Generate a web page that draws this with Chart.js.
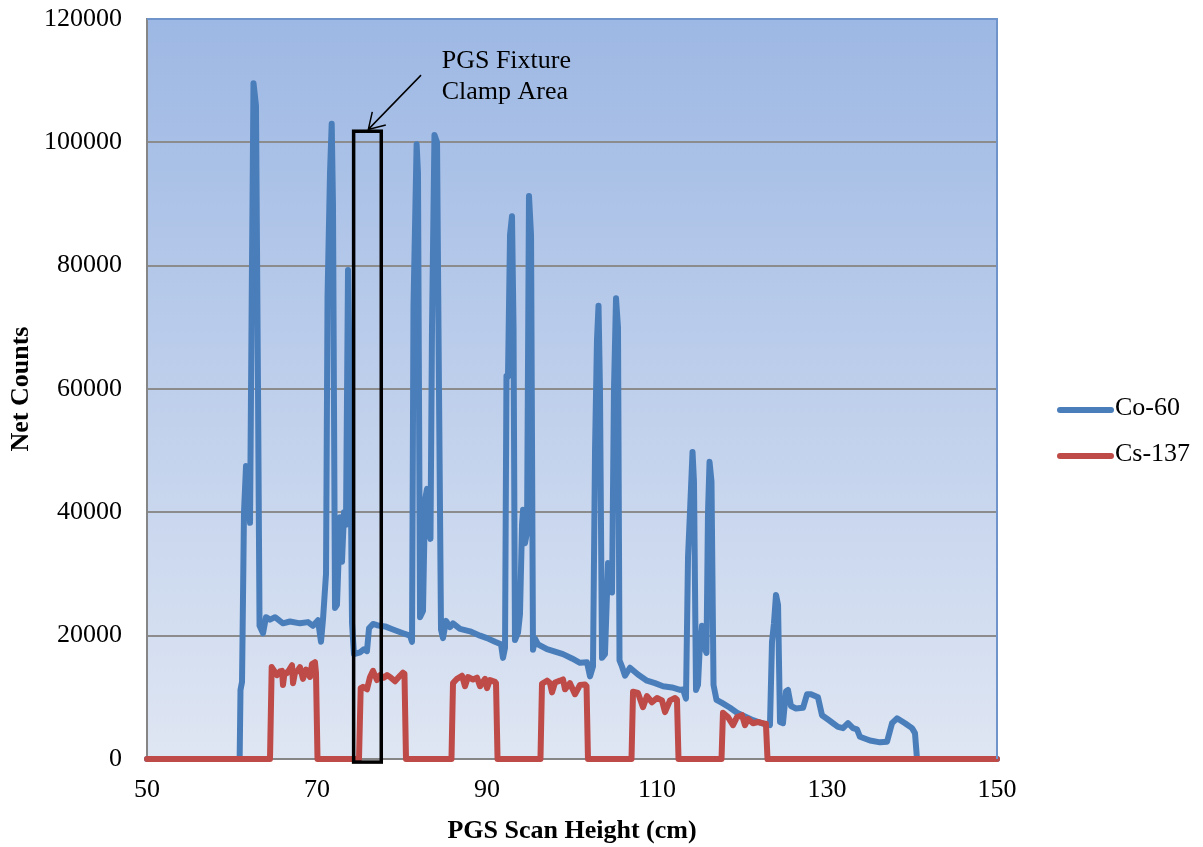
<!DOCTYPE html>
<html>
<head>
<meta charset="utf-8">
<script src="https://cdn.jsdelivr.net/npm/chart.js@4.4.1/dist/chart.umd.min.js"></script>
<style>
  html, body { margin: 0; padding: 0; background: #ffffff; }
  #wrap { width: 1203px; height: 847px; }
</style>
</head>
<body>
<div id="wrap"><canvas id="chart" width="1203" height="847"></canvas></div>
<script>
// PGS scan data
const co60X = [50, 60.9, 61.0, 61.18, 61.41, 61.65, 61.88, 62.12, 62.35, 62.53, 62.82, 63.06, 63.24, 63.65, 64.0,
  64.47, 65.06, 66.0, 66.82, 68.0, 68.94, 69.53, 70.12, 70.47, 70.71, 71.06, 71.24, 71.53, 71.73, 71.88,
  72.12, 72.35, 72.71, 72.94, 73.18, 73.41, 73.65, 73.88, 74.12, 74.35, 75.06, 75.53, 75.88, 76.12, 76.59,
  77.06, 78.0, 78.94, 80.12, 80.94, 81.18, 81.35, 81.72, 81.88, 82.12, 82.47, 82.71, 82.94, 83.18, 83.35,
  83.53, 83.82, 84.12, 84.35, 84.59, 84.82, 85.18, 85.65, 86.0, 86.82, 88.0, 89.18, 90.0, 90.94, 91.65,
  91.88, 92.12, 92.29, 92.47, 92.71, 92.94, 93.12, 93.29, 93.65, 93.88, 94.12, 94.24, 94.47, 94.71, 94.94,
  95.18, 95.41, 95.65, 96.0, 97.06, 98.0, 98.94, 100.0, 100.94, 101.76, 102.12, 102.47, 102.71, 102.94, 103.12,
  103.29, 103.53, 103.88, 104.24, 104.47, 104.71, 104.94, 105.18, 105.41, 105.59, 105.88, 106.24, 106.82, 107.76,
  108.82, 109.76, 110.71, 111.76, 112.71, 113.06, 113.41, 113.65, 113.88, 114.18, 114.35, 114.59, 114.82, 115.0,
  115.29, 115.59, 115.82, 116.0, 116.18, 116.41, 116.65, 117.0, 117.65, 118.59, 119.41, 120.35, 121.29, 122.35,
  123.29, 123.53, 123.76, 124.0, 124.24, 124.47, 124.82, 125.18, 125.41, 125.76, 126.35, 127.18, 127.65, 128.12,
  128.94, 129.41, 130.12, 130.71, 131.29, 131.88, 132.47, 133.06, 133.53, 133.88, 135.06, 136.24, 137.06, 137.65,
  138.24, 139.18, 140.0, 140.35, 140.59, 150];
const co60Y = [0, 0, 11200, 12500, 40000, 47500, 46000, 38300, 80000, 109600, 106000, 60000, 21600, 20400, 23000,
  22600, 23000, 22000, 22300, 22000, 22200, 21600, 22500, 19000, 22700, 30000, 75000, 95000, 103000, 90000,
  24500, 25000, 39200, 32000, 40000, 38000, 79300, 60000, 22000, 17000, 17300, 17800, 17500, 21200, 21900,
  21700, 21500, 21000, 20400, 20000, 19000, 73300, 99700, 95000, 23000, 24000, 42000, 43800, 37000, 35700,
  70000, 101200, 100000, 60000, 21000, 19600, 22400, 21400, 22000, 21100, 20700, 20000, 19600, 19000, 18600,
  16400, 18000, 62100, 62000, 85000, 88000, 70000, 19300, 20500, 23500, 38000, 40400, 35000, 36800, 91300,
  85000, 17700, 19500, 18600, 17800, 17400, 17000, 16300, 15600, 15700, 13400, 15000, 50100, 68000, 73500,
  60000, 16400, 17000, 31800, 30000, 27000, 60000, 74700, 70000, 16000, 15000, 13500, 14800, 13700,
  12700, 12300, 11800, 11600, 11200, 11300, 9800, 32800, 40000, 49800, 45000, 11200, 12000, 17200,
  21600, 18000, 17200, 40000, 48200, 45000, 12000, 9600, 9100, 8300, 7500, 6900, 6300, 5800,
  5500, 19000, 22000, 26600, 25000, 6000, 5800, 11000, 11200, 8600, 8200, 8300, 10500, 10500,
  10000, 7100, 6400, 5800, 5200, 5000, 5800, 5000, 4800, 3600, 3000, 2700, 2800, 5800,
  6600, 5800, 5000, 4200, 0, 0];

const cs137X = [50, 64.47, 64.67, 65.29, 65.65, 65.88, 66.0, 66.18, 66.47, 67.06, 67.18, 67.41, 67.65, 68.0, 68.35,
  68.71, 69.18, 69.41, 69.76, 69.88, 70.06,
  74.94, 75.14, 75.41, 75.88, 76.24, 76.59, 77.06, 77.41, 77.88, 78.24, 78.59, 79.18, 79.76, 80.12, 80.29, 80.47,
  85.82, 86.0, 86.47, 87.06, 87.41, 87.76, 88.35, 88.82, 89.18, 89.76, 90.0, 90.35, 90.94, 91.06, 91.24,
  96.29, 96.47, 97.06, 97.41, 97.65, 98.0, 98.59, 98.94, 99.18, 99.76, 100.35, 100.94, 101.53, 101.71, 101.88,
  107.0, 107.18, 107.76, 108.35, 108.82, 109.41, 110.0, 110.59, 110.94, 111.53, 112.12, 112.35, 112.53,
  117.59, 117.76, 118.35, 118.94, 119.41, 120.0, 120.35, 120.71, 121.29, 121.88, 122.71, 122.82, 123.0, 150];
const cs137Y = [0, 0, 14900, 13600, 14200, 14300, 12000, 14000, 13900, 15200, 12300, 14000, 14200, 14900, 13000,
  14500, 13300, 15400, 15700, 14000, 0,
  0, 11500, 11700, 11300, 13300, 14300, 12800, 13600, 13200, 13600, 13300, 12600, 13500, 14000, 13800, 0,
  0, 12300, 13000, 13500, 11800, 13300, 12900, 13200, 11800, 13000, 11500, 12800, 12500, 12300, 0,
  0, 12200, 12700, 12300, 10800, 12400, 12700, 12900, 11300, 12300, 10500, 12000, 12100, 11800, 0,
  0, 10900, 10700, 8400, 10200, 9200, 9900, 9500, 7600, 9500, 9900, 9600, 0,
  0, 7500, 6800, 5500, 6800, 7100, 5500, 6500, 5800, 6000, 5700, 5600, 0, 0];

const xTicks = [50, 70, 90, 110, 130, 150];
const yTicks = [0, 20000, 40000, 60000, 80000, 100000, 120000];

const seriesNames = ['Co-60', 'Cs-137'];
const seriesColors = ['#4a7ebb', '#be4b48'];

// callout for the fixture clamp, in data units
const clampBox = { xMin: 74.31, xMax: 77.56, yMin: -500, yMax: 101800 };
const clampArrow = { fromX: 82.24, fromY: 110900, toX: 76.04, toY: 102100 };
const clampText = [
  { x: 84.67, y: 113240, text: 'PGS Fixture' },
  { x: 84.67, y: 108210, text: 'Clamp Area' }
];

const FONT = "'Liberation Serif', 'Times New Roman', serif";

function toPoints(xs, ys) {
  return xs.map((x, i) => ({ x: x, y: ys[i] }));
}

const plotBackground = {
  id: 'plotBackground',
  beforeDraw(chart) {
    const { ctx, chartArea: a } = chart;
    const g = ctx.createLinearGradient(0, a.top, 0, a.bottom);
    g.addColorStop(0, '#9db8e4');
    g.addColorStop(1, '#dfe6f3');
    ctx.save();
    ctx.fillStyle = g;
    ctx.fillRect(a.left, a.top, a.right - a.left, a.bottom - a.top);
    ctx.restore();
  },
  afterDraw(chart) {
    const { ctx, chartArea: a } = chart;
    ctx.save();
    // top and right frame lines
    ctx.strokeStyle = '#6f93cb';
    ctx.lineWidth = 2;
    ctx.beginPath();
    ctx.moveTo(a.left, a.top);
    ctx.lineTo(a.right, a.top);
    ctx.lineTo(a.right, a.bottom);
    ctx.stroke();

    // legend on the right
    ctx.font = '26px ' + FONT;
    ctx.textBaseline = 'middle';
    ctx.textAlign = 'left';
    const legendY = [410, 456];
    seriesNames.forEach((name, i) => {
      ctx.strokeStyle = seriesColors[i];
      ctx.lineWidth = 6;
      ctx.lineCap = 'round';
      ctx.beginPath();
      ctx.moveTo(1060, legendY[i]);
      ctx.lineTo(1111, legendY[i]);
      ctx.stroke();
      ctx.fillStyle = '#000000';
      ctx.fillText(name, 1115, legendY[i] - 2);
    });
    ctx.restore();
  }
};

const clampCallout = {
  id: 'clampCallout',
  afterDatasetsDraw(chart) {
    const { ctx } = chart;
    const xs = chart.scales.x;
    const ys = chart.scales.y;
    ctx.save();

    // box
    const l = xs.getPixelForValue(clampBox.xMin);
    const r = xs.getPixelForValue(clampBox.xMax);
    const t = ys.getPixelForValue(clampBox.yMax);
    const b = ys.getPixelForValue(clampBox.yMin);
    ctx.strokeStyle = '#000000';
    ctx.lineWidth = 3.5;
    ctx.strokeRect(l, t, r - l, b - t);

    // arrow
    const x1 = xs.getPixelForValue(clampArrow.fromX);
    const y1 = ys.getPixelForValue(clampArrow.fromY);
    const x2 = xs.getPixelForValue(clampArrow.toX);
    const y2 = ys.getPixelForValue(clampArrow.toY);
    ctx.lineWidth = 1.5;
    ctx.beginPath();
    ctx.moveTo(x1, y1);
    ctx.lineTo(x2, y2);
    const ang = Math.atan2(y1 - y2, x1 - x2);
    const head = 18;
    const spread = 0.55;
    ctx.moveTo(x2 + head * Math.cos(ang - spread), y2 + head * Math.sin(ang - spread));
    ctx.lineTo(x2, y2);
    ctx.lineTo(x2 + head * Math.cos(ang + spread), y2 + head * Math.sin(ang + spread));
    ctx.stroke();

    // label
    ctx.fillStyle = '#000000';
    ctx.font = '26px ' + FONT;
    ctx.textAlign = 'left';
    ctx.textBaseline = 'middle';
    clampText.forEach(line => {
      ctx.fillText(line.text, xs.getPixelForValue(line.x), ys.getPixelForValue(line.y));
    });
    ctx.restore();
  }
};

const ctx = document.getElementById('chart').getContext('2d');
new Chart(ctx, {
  type: 'line',
  data: {
    datasets: [
      {
        label: seriesNames[0],
        data: toPoints(co60X, co60Y),
        borderColor: seriesColors[0],
        borderWidth: 6,
        pointRadius: 0,
        tension: 0,
        borderJoinStyle: 'round',
        borderCapStyle: 'round',
        order: 1
      },
      {
        label: seriesNames[1],
        data: toPoints(cs137X, cs137Y),
        borderColor: seriesColors[1],
        borderWidth: 6,
        pointRadius: 0,
        tension: 0,
        borderJoinStyle: 'round',
        borderCapStyle: 'round',
        order: 0
      }
    ]
  },
  options: {
    responsive: false,
    animation: false,
    clip: false,
    layout: {
      padding: { left: 0, top: 19, right: 206, bottom: 0 }
    },
    plugins: {
      legend: { display: false },
      tooltip: { enabled: false }
    },
    scales: {
      x: {
        type: 'linear',
        min: 50,
        max: 150,
        afterBuildTicks: (scale) => { scale.ticks = xTicks.map(v => ({ value: v })); },
        afterFit: (scale) => {
          scale.height = 88;
          scale.paddingLeft = 0;
          scale.paddingRight = 0;
        },
        grid: { display: false, drawTicks: false },
        border: { display: true, color: '#868686', width: 2 },
        ticks: {
          color: '#000000',
          padding: 16,
          maxRotation: 0,
          font: { family: FONT, size: 26 }
        },
        title: {
          display: true,
          text: 'PGS Scan Height (cm)',
          color: '#000000',
          padding: { top: 3, bottom: 0 },
          font: { family: FONT, size: 26, weight: 'bold' }
        }
      },
      y: {
        min: 0,
        max: 120000,
        afterBuildTicks: (scale) => { scale.ticks = yTicks.map(v => ({ value: v })); },
        afterFit: (scale) => {
          scale.width = 147;
          scale.paddingTop = 0;
          scale.paddingBottom = 0;
        },
        grid: {
          drawTicks: false,
          lineWidth: 2,
          color: (c) => (c.tick && c.tick.value === 120000) ? 'rgba(0,0,0,0)' : '#8c8c8c'
        },
        border: { display: true, color: '#868686', width: 2 },
        ticks: {
          color: '#000000',
          padding: 25,
          font: { family: FONT, size: 26 },
          callback: (v) => String(v)
        },
        title: {
          display: true,
          text: 'Net Counts',
          color: '#000000',
          padding: { top: 6, bottom: 0 },
          font: { family: FONT, size: 26, weight: 'bold' }
        }
      }
    }
  },
  plugins: [plotBackground, clampCallout]
});
</script>
</body>
</html>
